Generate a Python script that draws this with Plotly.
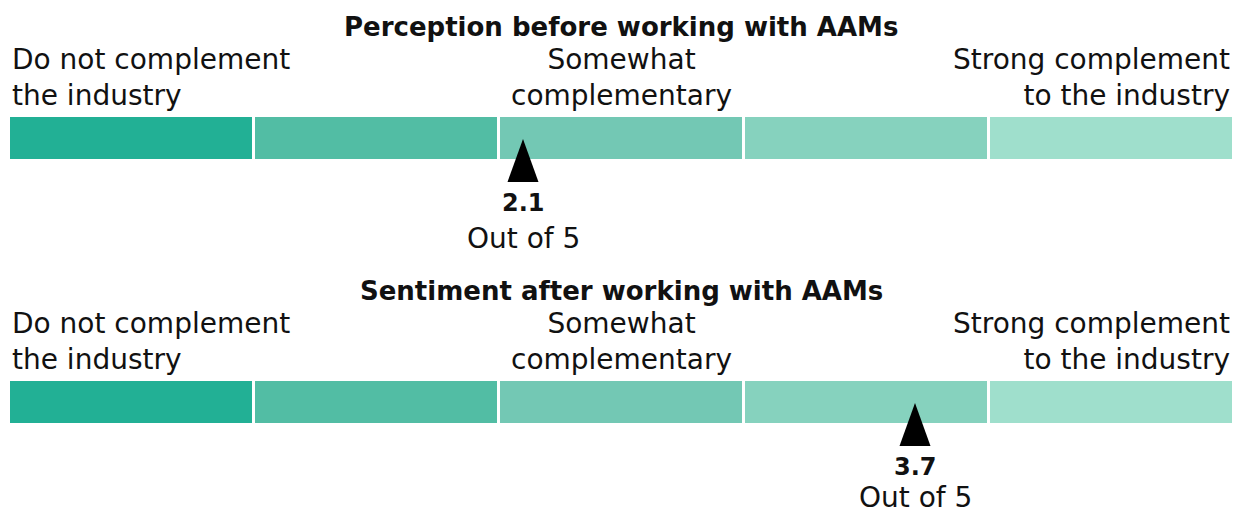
import plotly.graph_objects as go

# ---- data ----
panel_titles = ["Perception before working with AAMs", "Sentiment after working with AAMs"]
scale_labels = ["Do not complement<br>the industry", "Somewhat<br>complementary", "Strong complement<br>to the industry"]
label_positions = [0, 2.5, 5]
segment_values = [1, 1, 1, 1, 1]
segment_colors = ["#22b095", "#52bda4", "#73c8b4", "#86d2be", "#9fdfcc"]
scores = [2.1, 3.7]
score_max = 5

FONT = "DejaVu Sans"
INK = "#111111"

W, H = 1244, 516
# page pixel extents of the scale (including half of the white separator line)
x0_px, x1_px = 10 - 1.5, 1232 + 1.5
px_per_unit = (x1_px - x0_px) / score_max
xrange = [-x0_px / px_per_unit, (W - x0_px) / px_per_unit]

panel_offsets = [0, 264]
out_of_y = [238, 497]
bar_center = 138
bar_h = 45

fig = go.Figure()

for p, off in enumerate(panel_offsets):
    base = 0
    for i, v in enumerate(segment_values):
        fig.add_trace(go.Bar(
            x=[v], base=[base], y=[bar_center + off], orientation="h",
            width=bar_h, marker=dict(color=segment_colors[i], line=dict(color="white", width=3)),
            showlegend=False, hoverinfo="skip"))
        base += v
    s = scores[p]
    hw = 15.5 / px_per_unit
    fig.add_trace(go.Scatter(
        x=[s - hw, s + hw, s, s - hw],
        y=[182 + off, 182 + off, 139 + off, 182 + off],
        mode="lines", fill="toself", fillcolor="black", line=dict(color="black", width=0),
        showlegend=False, hoverinfo="skip"))
    fig.add_annotation(x=score_max / 2, y=27 + off, text="<b>" + panel_titles[p] + "</b>",
                       showarrow=False, font=dict(family=FONT, size=26, color=INK),
                       xanchor="center", yanchor="middle")
    anchors = ["left", "center", "right"]
    for lab, xp, an in zip(scale_labels, label_positions, anchors):
        fig.add_annotation(x=xp, y=77 + off, text=lab, showarrow=False, align=an,
                           font=dict(family=FONT, size=28, color=INK),
                           xanchor=an, yanchor="middle",
                           xshift=(1.5 if an == "left" else (-1.5 if an == "right" else 0)))
    fig.add_annotation(x=s, y=203 + off, text="<b>%.1f</b>" % s, showarrow=False,
                       font=dict(family=FONT, size=24, color=INK), xanchor="center", yanchor="middle")
    fig.add_annotation(x=s, y=out_of_y[p], text="Out of %d" % score_max, showarrow=False,
                       font=dict(family=FONT, size=28, color=INK), xanchor="center", yanchor="middle")

fig.update_layout(
    width=W, height=H, margin=dict(l=0, r=0, t=0, b=0),
    paper_bgcolor="white", plot_bgcolor="white", barmode="overlay",
    xaxis=dict(range=xrange, visible=False, fixedrange=True),
    yaxis=dict(range=[H, 0], visible=False, fixedrange=True),
)
fig.write_html("out.html", config={"displayModeBar": False},
               post_script="document.body.style.margin='0';document.body.style.overflow='hidden';")
